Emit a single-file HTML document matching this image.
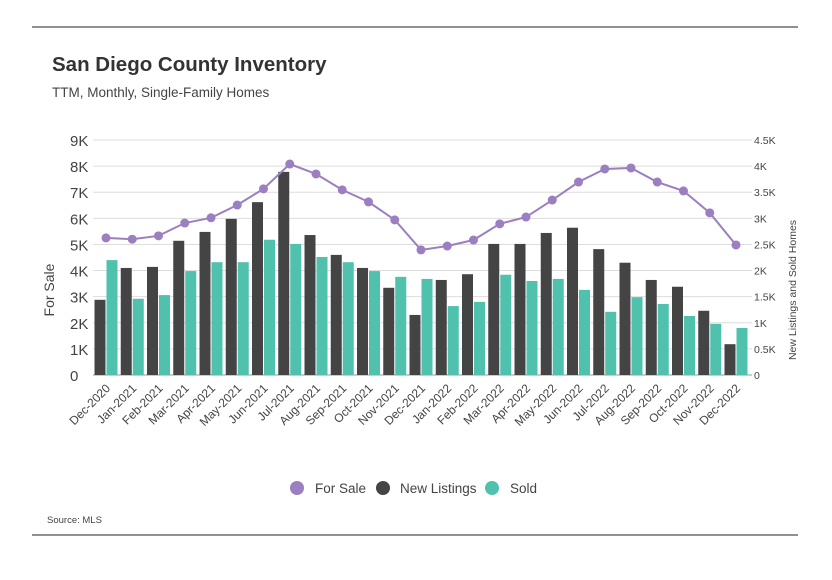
<!DOCTYPE html>
<html><head><meta charset="utf-8"><style>
body{margin:0;background:#fff;font-family:"Liberation Sans",sans-serif;}
svg text{font-family:"Liberation Sans",sans-serif;}
</style></head><body>
<svg id="c" width="832" height="575" xmlns="http://www.w3.org/2000/svg">
<line x1="32" y1="27" x2="798" y2="27" stroke="#222" stroke-width="1"/>
<line x1="32" y1="535" x2="798" y2="535" stroke="#222" stroke-width="1"/>
<text x="52" y="71" font-size="20.5" font-weight="bold" fill="#333">San Diego County Inventory</text>
<text x="52" y="97" font-size="13.5" fill="#444">TTM, Monthly, Single-Family Homes</text>
<text transform="translate(54,290) rotate(-90)" text-anchor="middle" font-size="14" fill="#444">For Sale</text>
<text transform="translate(796,290) rotate(-90)" text-anchor="middle" font-size="10.5" fill="#444">New Listings and Sold Homes</text>
<g id="grid"></g><g id="bars"></g><g id="line"></g><g id="xl"></g>
<g>
<circle cx="297" cy="488" r="7" fill="#9b7fc0"/>
<text x="315" y="493" font-size="13.5" fill="#444">For Sale</text>
<circle cx="383" cy="488" r="7" fill="#444"/>
<text x="400" y="493" font-size="13.5" fill="#444">New Listings</text>
<circle cx="492" cy="488" r="7" fill="#4fc1ad"/>
<text x="510" y="493" font-size="13.5" fill="#444">Sold</text>
</g>
<text x="47" y="523" font-size="9.5" fill="#444">Source: MLS</text>
</svg>
<script>
const categories=["Dec-2020","Jan-2021","Feb-2021","Mar-2021","Apr-2021","May-2021","Jun-2021","Jul-2021","Aug-2021","Sep-2021","Oct-2021","Nov-2021","Dec-2021","Jan-2022","Feb-2022","Mar-2022","Apr-2022","May-2022","Jun-2022","Jul-2022","Aug-2022","Sep-2022","Oct-2022","Nov-2022","Dec-2022"];
const forSale=[5250,5200,5330,5820,6020,6510,7130,8080,7700,7090,6630,5940,4790,4940,5170,5790,6050,6700,7390,7890,7930,7390,7050,6210,4980];
const newListings=[1440,2050,2070,2570,2740,2990,3310,3890,2680,2300,2050,1670,1150,1820,1930,2510,2510,2720,2820,2410,2150,1820,1690,1230,590];
const sold=[2200,1460,1530,1990,2160,2160,2590,2510,2260,2160,1990,1880,1840,1320,1400,1920,1800,1840,1630,1210,1490,1360,1130,980,900];
const leftTicks=["0","1K","2K","3K","4K","5K","6K","7K","8K","9K"];
const rightTicks=["0","0.5K","1K","1.5K","2K","2.5K","3K","3.5K","4K","4.5K"];
const NS="http://www.w3.org/2000/svg";
const y0=375,y1=140,xL=93,xR=752;
const yL=v=>y0-(y0-y1)*v/9000;
const yR=v=>y0-(y0-y1)*v/4500;
const xc=i=>106+i*26.25;
function mk(t,a,p){const e=document.createElementNS(NS,t);for(const k in a)e.setAttribute(k,a[k]);p.appendChild(e);return e;}
const grid=document.getElementById('grid');
leftTicks.forEach((t,i)=>{const y=y0-(y0-y1)*i/9;
 const l=mk('line',{x1:xL,x2:xR,y1:y,y2:y,stroke:i==0?'#999':'#ddd','stroke-width':1},grid);
 
 
 const a=mk('text',{x:70,y:y+6,'font-size':15,fill:'#444'},grid);a.textContent=t;
 
 
 const b=mk('text',{x:754,y:y+4,'font-size':10.5,fill:'#444'},grid);b.textContent=rightTicks[i];
 
 
});
const bars=document.getElementById('bars');
categories.forEach((c,i)=>{
 const a=mk('rect',{x:xc(i)-11.5,y:yR(newListings[i]),width:11,height:y0-yR(newListings[i]),fill:'#444'},bars);
 
 
 const b=mk('rect',{x:xc(i)+0.5,y:yR(sold[i]),width:11,height:y0-yR(sold[i]),fill:'#4fc1ad'},bars);
 
 
 const t=mk('text',{transform:`translate(${xc(i)+5},389) rotate(-45)`,'text-anchor':'end','font-size':12,fill:'#444'},document.getElementById('xl'));
 t.textContent=c;
 
 
});
const lg=document.getElementById('line');
const pl=mk('polyline',{points:forSale.map((v,i)=>xc(i)+','+yL(v)).join(' '),fill:'none',stroke:'#9b7fc0','stroke-width':2},lg);


forSale.forEach((v,i)=>{const p=mk('circle',{cx:xc(i),cy:yL(v),r:4.5,fill:'#9b7fc0'},lg);
 
 });
</script>
</body></html>
